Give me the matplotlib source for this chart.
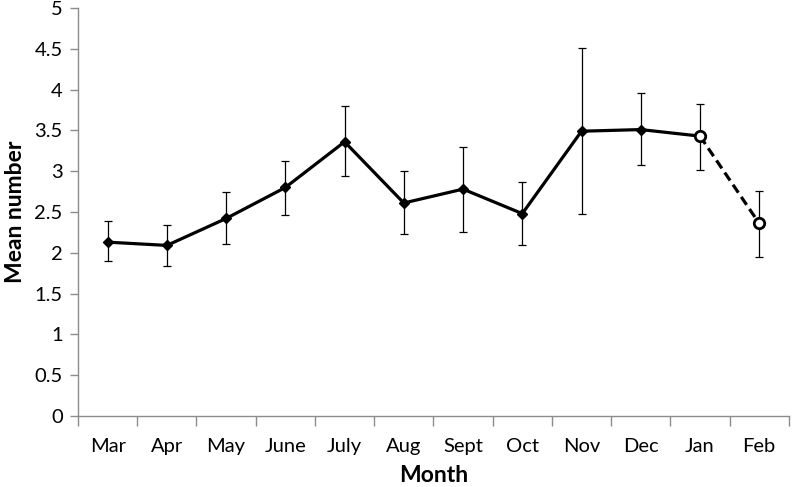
import matplotlib
matplotlib.use('Agg')
import matplotlib.pyplot as plt
import numpy as np

months = ['Mar', 'Apr', 'May', 'June', 'July', 'Aug', 'Sept', 'Oct', 'Nov', 'Dec', 'Jan', 'Feb']
mean_number = [2.13, 2.09, 2.42, 2.80, 3.36, 2.61, 2.78, 2.48, 3.49, 3.51, 3.43, 2.36]
err_high = [2.39, 2.34, 2.74, 3.13, 3.80, 3.00, 3.30, 2.87, 4.51, 3.96, 3.82, 2.76]
err_low = [1.90, 1.84, 2.11, 2.46, 2.94, 2.23, 2.26, 2.09, 2.48, 3.07, 3.01, 1.95]
y_ticks = [0, 0.5, 1, 1.5, 2, 2.5, 3, 3.5, 4, 4.5, 5]
y_tick_labels = ['0', '0.5', '1', '1.5', '2', '2.5', '3', '3.5', '4', '4.5', '5']

AXIS_GREY = '#8c8c8c'

plt.rcParams['font.family'] = ['Lato', 'DejaVu Sans']

fig = plt.figure(figsize=(7.92, 4.87), dpi=100)
ax = fig.add_axes([0.0985, 0.146, 0.8975, 0.8375])

x = np.arange(len(months))
mean = np.array(mean_number)
yerr = [mean - np.array(err_low), np.array(err_high) - mean]

# error bars
ax.errorbar(x, mean, yerr=yerr, fmt='none', ecolor='black', elinewidth=0.9,
            capsize=2.8, capthick=0.9, zorder=2)

# solid line Mar..Jan, dashed Jan..Feb
ax.plot(x[:11], mean[:11], color='black', lw=2.3, zorder=3)
ax.plot(x[10:], mean[10:], color='black', lw=2.3, ls=(0, (3, 1.6)), zorder=3)

# markers
ax.plot(x[:10], mean[:10], ls='none', marker='D', ms=5.5, color='black', zorder=4)
ax.plot(x[10:], mean[10:], ls='none', marker='o', ms=7.5, mfc='white',
        mec='black', mew=2, zorder=4)

ax.set_xlim(-0.5, len(months) - 0.5)
ax.set_ylim(0, 5)
ax.set_yticks(y_ticks)
ax.set_yticklabels(y_tick_labels)
ax.set_xticks(x)
ax.set_xticklabels(months)
ax.set_xticks(np.arange(-0.5, len(months), 1), minor=True)

ax.tick_params(axis='x', which='major', length=0, pad=16, labelsize=14.5)
ax.tick_params(axis='x', which='minor', length=7, width=1, color=AXIS_GREY)
ax.tick_params(axis='y', length=6, width=1, color=AXIS_GREY, pad=5, labelsize=14.5)

for side in ['top', 'right']:
    ax.spines[side].set_visible(False)
for side in ['left', 'bottom']:
    ax.spines[side].set_color(AXIS_GREY)
    ax.spines[side].set_linewidth(1)

ax.set_xlabel('Month', fontsize=16.5, fontweight='bold', labelpad=7)
ax.set_ylabel('Mean number', fontsize=16.5, fontweight='bold', labelpad=6)

fig.savefig('out.png', dpi=100)
